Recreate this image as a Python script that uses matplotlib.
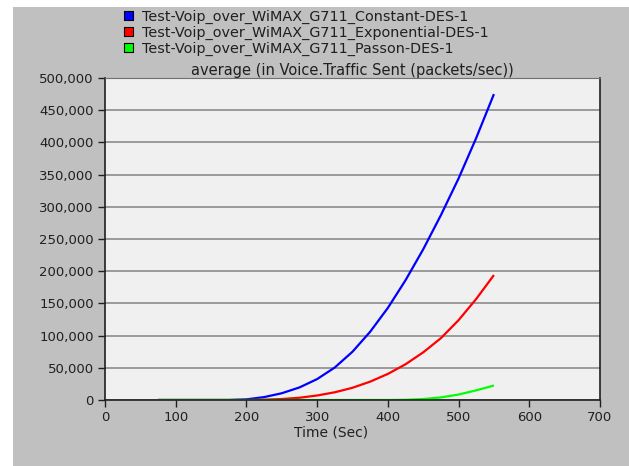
import matplotlib.pyplot as plt
from matplotlib.patches import Rectangle
from matplotlib.ticker import FuncFormatter

# dane
czas = [75, 100, 125, 150, 175, 200, 225, 250, 275, 300, 325, 350, 375,
        400, 425, 450, 475, 500, 525, 550]
constant = [0, 0, 0, 0, 0, 1000, 4500, 10500, 19500, 32500, 50500, 75000, 106000,
            143000, 186000, 234000, 287000, 344000, 407000, 475000]
exponential = [0, 0, 0, 0, 0, 0, 500, 1500, 3500, 7000, 12000, 19000, 28500,
               40500, 55500, 74000, 96000, 124000, 157000, 194000]
passon = [0, 0, 0, 0, 0, 0, 0, 0, 0, 0, 0, 0, 0,
          0, 300, 1500, 4000, 8500, 15000, 22500]

serie = [
    ("Test-Voip_over_WiMAX_G711_Constant-DES-1", constant, "#0000ff"),
    ("Test-Voip_over_WiMAX_G711_Exponential-DES-1", exponential, "#ff0000"),
    ("Test-Voip_over_WiMAX_G711_Passon-DES-1", passon, "#00ff00"),
]
tytul = "average (in Voice.Traffic Sent (packets/sec))"
os_x = "Time (Sec)"

plt.rcParams['font.family'] = ['DejaVu Sans']

W, H = 629, 466
fig = plt.figure(figsize=(W / 100, H / 100), dpi=100)
fig.patch.set_facecolor("white")
fig.add_artist(Rectangle((13 / W, 0), 1 - 13 / W, (H - 7) / H,
                         transform=fig.transFigure, facecolor="#c0c0c0",
                         edgecolor="none", zorder=0))

ax = fig.add_axes([105 / W, 66 / H, 495 / W, 322 / H])
ax.set_facecolor("#f0f0f0")

for nazwa, wartosci, kolor in serie:
    ax.plot(czas, wartosci, color=kolor, lw=1.6, solid_capstyle="butt")

ax.set_xlim(0, 700)
ax.set_ylim(0, 500000)
ax.set_xticks(range(0, 701, 100))
ax.set_yticks(range(0, 500001, 50000))
ax.yaxis.set_major_formatter(FuncFormatter(lambda v, p: f"{int(v):,}"))
ax.grid(axis="y", color="#8c8c8c", lw=1.2)
ax.set_axisbelow(True)
ax.tick_params(direction="out", length=5, width=1, labelsize=9.5, pad=3,
               colors="#202020")
for s in ["left", "bottom", "right"]:
    ax.spines[s].set_color("#202020")
    ax.spines[s].set_linewidth(1.2)
ax.spines["top"].set_color("#707070")

ax.set_title(tytul, fontsize=10.5, pad=2, color="#202020")
ax.text(0.457, -0.08, os_x, transform=ax.transAxes, ha="center", va="top",
        fontsize=10, color="#202020")

# legenda rysowana recznie
for i, (nazwa, _, kolor) in enumerate(serie):
    yc = 15.5 + i * 16
    fig.add_artist(Rectangle((124 / W, 1 - (yc + 4.5) / H), 9 / W, 9 / H,
                             transform=fig.transFigure, facecolor=kolor,
                             edgecolor="black", lw=0.8))
    fig.text(142 / W, 1 - yc / H, nazwa, ha="left", va="center_baseline",
             fontsize=10.4, color="#202020")

fig.savefig("out.png", dpi=100, facecolor=fig.get_facecolor())
